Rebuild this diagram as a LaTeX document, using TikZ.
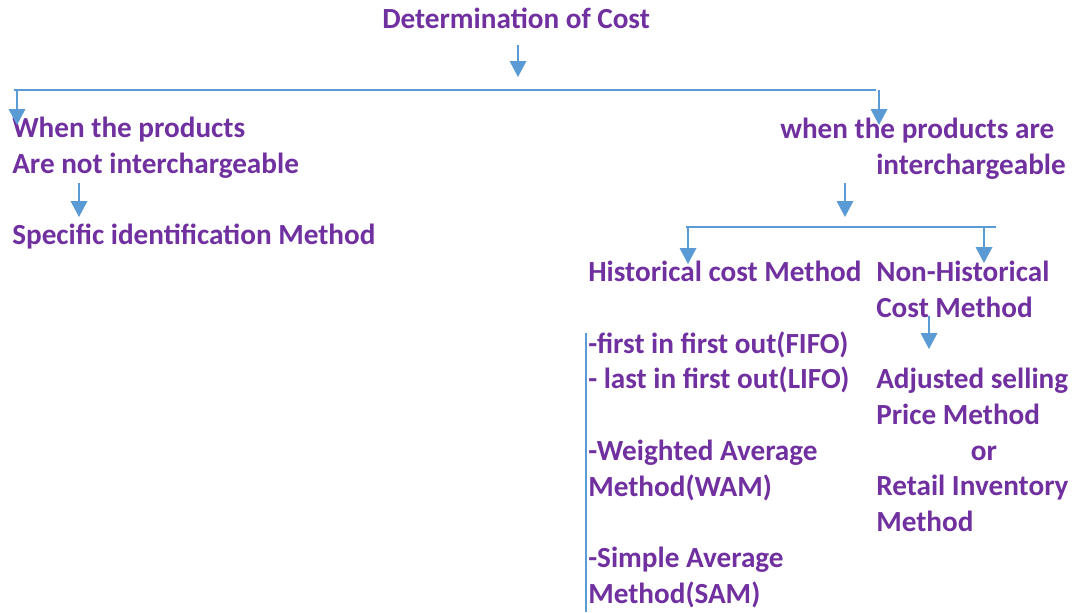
\documentclass[tikz,border=0pt]{standalone}
\usepackage{fontspec}
\setmainfont{Carlito}
\usetikzlibrary{arrows.meta}
\definecolor{costpurple}{HTML}{7030A0}
\definecolor{costblue}{HTML}{5B9BD5}

\begin{document}
\begin{tikzpicture}[
    x=0.75pt, y=-0.75pt,
    txt/.style={text=costpurple, font=\bfseries\fontsize{21.9}{27}\selectfont, inner sep=0pt, align=left, anchor=base west},
    arrow/.style={-{Triangle[width=12.5pt,length=12pt]}, draw=costblue, line width=1pt},
    bus/.style={draw=costblue, line width=1pt}
]
\useasboundingbox (0,0) rectangle (1078,612);

% Root (multi-line nodes sit on the baseline of their last line)
\node[txt] (title) at (382,28) {Determination of Cost};

% Branch points
\coordinate (rootA) at (518,45);   \coordinate (rootB) at (518,77);
\coordinate (busL) at (14,90);     \coordinate (busR) at (876,90);
\coordinate (notA) at (17,90);     \coordinate (notB) at (17,125);
\coordinate (intA) at (879,90);    \coordinate (intB) at (879,125);

% Products not interchargeable
\node[txt] (notinter) at (12,173) {When the products\\Are not interchargeable};
\coordinate (specA) at (79,183);   \coordinate (specB) at (79,217);
\node[txt] (specific) at (12,244) {Specific identification Method};

% Products interchargeable
\node[txt] (inter1) at (780,138) {when the products are};
\node[txt] (inter2) at (876,174) {interchargeable};
\coordinate (subA) at (845,183);   \coordinate (subB) at (845,217);
\coordinate (sbusL) at (686,227);  \coordinate (sbusR) at (996,227);
\coordinate (histA) at (688,227);  \coordinate (histB) at (688,264);
\coordinate (nonA) at (984,227);   \coordinate (nonB) at (984,263);

% Historical cost
\node[txt] (hist) at (588,281) {Historical cost Method};
\coordinate (listA) at (586,333);  \coordinate (listB) at (586,612);
\node[txt] (fifo) at (588,353) {-first in first out(FIFO)};
\node[txt] (lifo) at (588,388) {- last in first out(LIFO)};
\node[txt] (wam) at (588,496) {-Weighted Average\\Method(WAM)};
\node[txt] (sam) at (588,603) {-Simple Average\\Method(SAM)};

% Non-historical cost
\node[txt] (nonhist) at (876,317) {Non-Historical\\Cost Method};
\coordinate (retA) at (929,316);   \coordinate (retB) at (929,349);
\node[txt] (adjusted) at (876,424) {Adjusted selling\\Price Method};
\node[txt, anchor=base] (or) at (984,460) {or};
\node[txt] (retail) at (876,531) {Retail Inventory\\Method};

% Connectors
\draw[arrow] (rootA) -- (rootB);
\draw[bus] (busL) -- (busR);
\draw[arrow] (notA) -- (notB);
\draw[arrow] (intA) -- (intB);
\draw[arrow] (specA) -- (specB);
\draw[arrow] (subA) -- (subB);
\draw[bus] (sbusL) -- (sbusR);
\draw[arrow] (histA) -- (histB);
\draw[arrow] (nonA) -- (nonB);
\draw[bus] (listA) -- (listB);
\draw[arrow] (retA) -- (retB);

\end{tikzpicture}
\end{document}
